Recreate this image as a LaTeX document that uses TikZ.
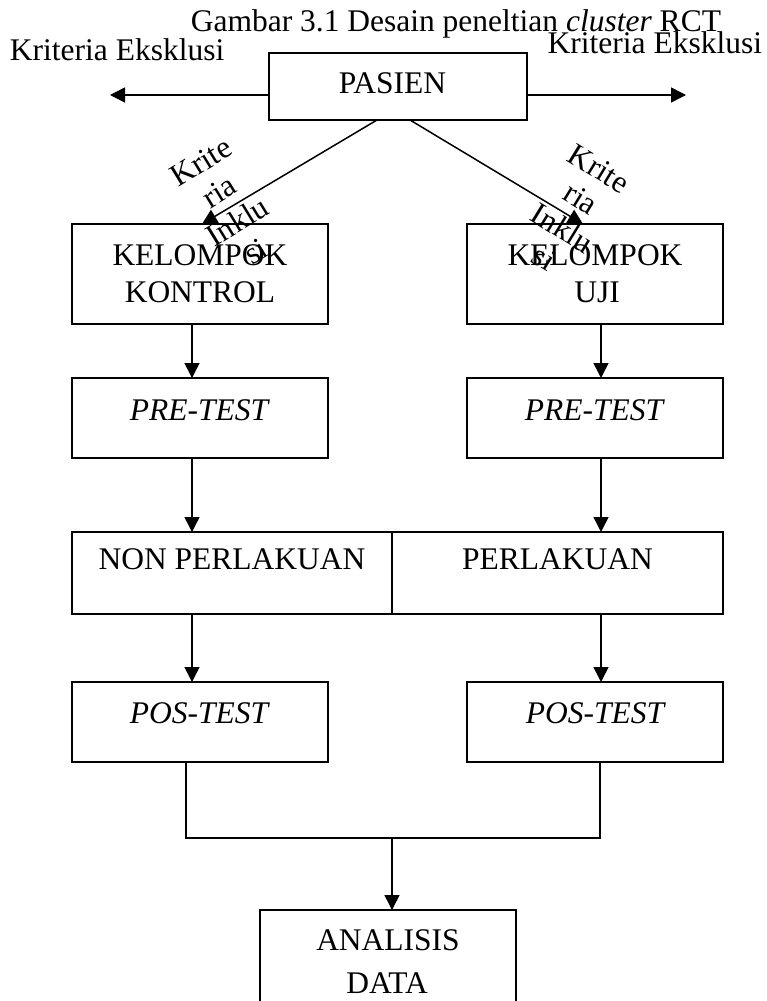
\documentclass[tikz,border=0pt]{standalone}
\usepackage{fontspec}
\setmainfont{Liberation Serif}
\usetikzlibrary{arrows.meta}
\begin{document}
\begin{tikzpicture}[x=0.5pt,y=-0.5pt,
  every node/.style={inner sep=0pt, outer sep=0pt},
  box/.style={draw, line width=0.75pt, minimum width=128pt, minimum height=40pt},
  lbl/.style={anchor=base, font=\fontsize{15.75}{18.5}\selectfont},
  tilted/.style={font=\fontsize{15.75}{17.5}\selectfont, align=center},
  arr/.style={line width=0.75pt, -{Triangle[length=7.5pt,width=7.5pt]}},
  link/.style={line width=0.75pt}]
\useasboundingbox (0,0) rectangle (766,1001);
\clip (0,0) rectangle (766,1001);

% caption and exclusion labels
\node[lbl, anchor=base east] (title) at (721,32) {Gambar 3.1 Desain peneltian \textit{cluster} RCT};
\node[lbl, anchor=base west] (exclL) at (10,60) {Kriteria Eksklusi};
\node[lbl, anchor=base east] (exclR) at (762,53) {Kriteria Eksklusi};

% boxes
\node[box, minimum width=129pt, minimum height=33.5pt] (pasien) at (398,86.5) {};
\node[box, minimum height=50pt] (kontrol) at (200,274) {};
\node[box, minimum height=50pt] (uji) at (595,274) {};
\node[box] (preL) at (200,418) {};
\node[box] (preR) at (595,418) {};
\node[box, minimum width=160pt, minimum height=41pt] (non) at (232,573) {};
\node[box, minimum width=165.5pt, minimum height=41pt] (perl) at (557.5,573) {};
\node[box] (posL) at (200,722) {};
\node[box] (posR) at (595,722) {};
\node[box, minimum height=65pt] (analisis) at (388,975) {};

% box texts
\node[lbl] (pasienT) at (392.5,93) {PASIEN};
\node[lbl] (kontrolA) at (200,265) {KELOMPOK};
\node[lbl] (kontrolB) at (200,302) {KONTROL};
\node[lbl] (ujiA) at (595,265) {KELOMPOK};
\node[lbl] (ujiB) at (597,302) {UJI};
\node[lbl] (preLT) at (200,420) {\textit{PRE-TEST}};
\node[lbl] (preRT) at (595,420) {\textit{PRE-TEST}};
\node[lbl] (nonT) at (232,569) {NON PERLAKUAN};
\node[lbl] (perlT) at (557.5,569) {PERLAKUAN};
\node[lbl] (posLT) at (200,723) {\textit{POS-TEST}};
\node[lbl] (posRT) at (596,723) {\textit{POS-TEST}};
\node[lbl] (analisisA) at (388,950) {ANALISIS};
\node[lbl] (analisisB) at (387,993) {DATA};

% connectors
\coordinate (exitL) at (110,95);
\coordinate (exitR) at (686,95);
\coordinate (merge) at (392,838);
\draw[arr] (pasien.west |- exitL) -- (exitL);
\draw[arr] (pasien.east |- exitR) -- (exitR);
\draw[arr] ([xshift=-10.5pt]pasien.south) -- ([xshift=1pt]kontrol.north);
\draw[arr] ([xshift=6pt]pasien.south) -- ([xshift=-6pt]uji.north);
\draw[arr] ([xshift=-4pt]kontrol.south) -- ([xshift=-4pt]preL.north);
\draw[arr] ([xshift=3pt]uji.south) -- ([xshift=3pt]preR.north);
\draw[arr] ([xshift=-4pt]preL.south) -- ([xshift=-4pt]preL.south |- non.north);
\draw[arr] ([xshift=3pt]preR.south) -- ([xshift=3pt]preR.south |- perl.north);
\draw[arr] ([xshift=-4pt]posL.north |- non.south) -- ([xshift=-4pt]posL.north);
\draw[arr] ([xshift=3pt]posR.north |- perl.south) -- ([xshift=3pt]posR.north);
\draw[link] ([xshift=-7pt]posL.south) |- (merge) -| ([xshift=2.5pt]posR.south);
\draw[arr] (merge) -- (merge |- analisis.north);

% rotated inclusion labels
\node[tilted, rotate=31.5] (inclL) at (228.5,206.5) {Krite\\ria\\Inklu\\si};
\node[tilted, rotate=-31.5] (inclR) at (571.5,213.5) {Krite\\ria\\Inklu\\si};
\end{tikzpicture}
\end{document}
